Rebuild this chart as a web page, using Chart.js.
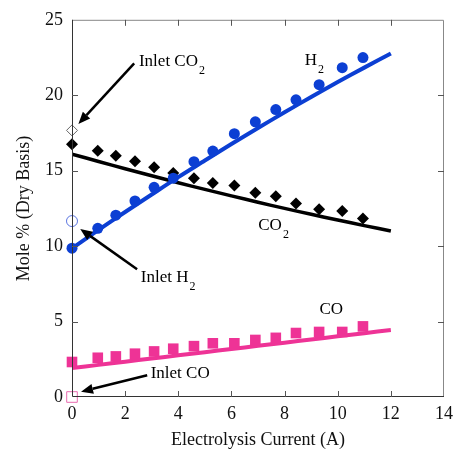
<!DOCTYPE html>
<html>
<head>
<meta charset="utf-8">
<script src="https://cdn.jsdelivr.net/npm/chart.js@4"></script>
<style>
  html, body { margin: 0; padding: 0; background: #fff; }
  #wrap { width: 459px; height: 451px; }
</style>
</head>
<body>
<div id="wrap"><canvas id="chart"></canvas></div>
<script>
// measured points (electrolysis current, A)
const currentA = [0, 0.97, 1.65, 2.37, 3.09, 3.81, 4.59, 5.3, 6.11, 6.9, 7.67, 8.43, 9.3, 10.17, 10.95]
const h2Measured = [9.86, 11.18, 12.05, 12.99, 13.9, 14.5, 15.6, 16.3, 17.45, 18.24, 19.05, 19.7, 20.7, 21.83, 22.5]
const co2Measured = [16.75, 16.32, 15.99, 15.62, 15.22, 14.85, 14.5, 14.19, 14.02, 13.54, 13.3, 12.82, 12.45, 12.32, 11.83]
const coMeasured = [2.32, 2.6, 2.69, 2.87, 3.02, 3.2, 3.37, 3.56, 3.56, 3.78, 3.92, 4.24, 4.31, 4.31, 4.68]

// model curves
const modelCurrent = [0, 1, 2, 3, 4, 5, 6, 7, 8, 9, 10, 11, 12]
const h2Model = [9.85, 11.07, 12.26, 13.42, 14.57, 15.67, 16.77, 17.83, 18.87, 19.88, 20.87, 21.83, 22.77]
const co2Model = [16.1, 15.61, 15.13, 14.66, 14.2, 13.76, 13.33, 12.91, 12.5, 12.11, 11.73, 11.36, 11.0]
const coModel = [1.92, 2.13, 2.34, 2.55, 2.76, 2.97, 3.18, 3.39, 3.6, 3.81, 4.02, 4.23, 4.44]

// inlet composition
const inletCurrent = 0
const inletH2 = 11.66
const inletCO2 = 17.67
const inletCO = 0

const xTicks = [0, 2, 4, 6, 8, 10, 12, 14]
const yTicks = [0, 5, 10, 15, 20, 25]

const BLUE = "#0c3fd3"
const PINK = "#ee3396"
const FONT = "'Liberation Serif', 'Times New Roman', serif"

const pts = (xs, ys) => xs.map((x, i) => ({ x: x, y: ys[i] }))

// labels and arrows, in data units
const labels = [
  { text: "Inlet CO", sub: "2", x: 2.52, y: 21.92 },
  { text: "H", sub: "2", x: 8.76, y: 21.98 },
  { text: "CO", sub: "2", x: 7.01, y: 11.07 },
  { text: "Inlet H", sub: "2", x: 2.59, y: 7.61 },
  { text: "CO", sub: "", x: 9.31, y: 5.49 },
  { text: "Inlet CO", sub: "", x: 2.96, y: 1.23 },
]
const arrows = [
  { from: [2.34, 22.11], to: [0.24, 18.1] },
  { from: [2.45, 8.46], to: [0.31, 11.14] },
  { from: [2.83, 1.44], to: [0.34, 0.35] },
]

const framePlugin = {
  id: "frame",
  afterDatasetsDraw(chart) {
    const { ctx, chartArea: a, scales: { x, y } } = chart
    ctx.save()

    // box
    ctx.lineWidth = 1
    ctx.strokeStyle = "#888"
    ctx.beginPath()
    ctx.moveTo(a.left, a.top + 0.5)
    ctx.lineTo(a.right - 0.5, a.top + 0.5)
    ctx.lineTo(a.right - 0.5, a.bottom)
    ctx.stroke()
    ctx.strokeStyle = "#333"
    ctx.beginPath()
    ctx.moveTo(a.left + 0.5, a.top)
    ctx.lineTo(a.left + 0.5, a.bottom - 0.5)
    ctx.lineTo(a.right, a.bottom - 0.5)
    ctx.stroke()

    // inward ticks
    const tl = 6
    ctx.beginPath()
    xTicks.slice(1, -1).forEach(v => {
      const px = Math.round(x.getPixelForValue(v)) + 0.5
      ctx.moveTo(px, a.bottom); ctx.lineTo(px, a.bottom - tl)
      ctx.moveTo(px, a.top); ctx.lineTo(px, a.top + tl)
    })
    yTicks.slice(1, -1).forEach(v => {
      const py = Math.round(y.getPixelForValue(v)) + 0.5
      ctx.moveTo(a.left, py); ctx.lineTo(a.left + tl, py)
      ctx.moveTo(a.right, py); ctx.lineTo(a.right - tl, py)
    })
    ctx.strokeStyle = "#555"
    ctx.stroke()

    // arrows
    ctx.strokeStyle = "#000"
    ctx.fillStyle = "#000"
    arrows.forEach(ar => {
      const x0 = x.getPixelForValue(ar.from[0]), y0 = y.getPixelForValue(ar.from[1])
      const x1 = x.getPixelForValue(ar.to[0]), y1 = y.getPixelForValue(ar.to[1])
      const ang = Math.atan2(y1 - y0, x1 - x0)
      const head = 12, w = 5
      const bx = x1 - head * Math.cos(ang), by = y1 - head * Math.sin(ang)
      ctx.lineWidth = 2.5
      ctx.beginPath()
      ctx.moveTo(x0, y0); ctx.lineTo(bx, by)
      ctx.stroke()
      ctx.beginPath()
      ctx.moveTo(x1, y1)
      ctx.lineTo(bx + w * Math.sin(ang), by - w * Math.cos(ang))
      ctx.lineTo(bx - w * Math.sin(ang), by + w * Math.cos(ang))
      ctx.closePath()
      ctx.fill()
    })

    // text labels
    ctx.textBaseline = "alphabetic"
    ctx.textAlign = "left"
    labels.forEach(l => {
      const px = x.getPixelForValue(l.x), py = y.getPixelForValue(l.y)
      ctx.font = "17px " + FONT
      ctx.fillText(l.text, px, py)
      if (l.sub) {
        const w = ctx.measureText(l.text).width
        ctx.font = "12px " + FONT
        ctx.fillText(l.sub, px + w + 1, py + 8)
      }
    })
    ctx.restore()
  },
}

new Chart(document.getElementById("chart"), {
  type: "scatter",
  data: {
    datasets: [
      {
        label: "H2",
        data: pts(currentA, h2Measured),
        pointStyle: "circle",
        pointRadius: 5.5,
        pointBorderWidth: 0,
        pointBackgroundColor: BLUE,
        clip: false,
      },
      {
        label: "CO2",
        data: pts(currentA, co2Measured),
        pointStyle: "rectRot",
        pointRadius: 6,
        pointBorderWidth: 0,
        pointBackgroundColor: "#000",
        clip: false,
      },
      {
        label: "CO",
        data: pts(currentA, coMeasured),
        pointStyle: "rect",
        pointRadius: 7.5,
        pointBorderWidth: 0,
        pointBackgroundColor: PINK,
        clip: false,
      },
      {
        label: "Inlet CO2",
        data: [{ x: inletCurrent, y: inletCO2 }],
        pointStyle: "rectRot",
        pointRadius: 5.5,
        pointBorderWidth: 1,
        pointBorderColor: "#666",
        pointBackgroundColor: "#fff",
        clip: false,
      },
      {
        label: "Inlet H2",
        data: [{ x: inletCurrent, y: inletH2 }],
        pointStyle: "circle",
        pointRadius: 5.5,
        pointBorderWidth: 1,
        pointBorderColor: "#5a74e0",
        pointBackgroundColor: "#fff",
        clip: false,
      },
      {
        label: "Inlet CO",
        data: [{ x: inletCurrent, y: inletCO }],
        pointStyle: "rect",
        pointRadius: 7.5,
        pointBorderWidth: 1,
        pointBorderColor: "#e86aae",
        pointBackgroundColor: "rgba(255,255,255,0)",
        clip: false,
      },
      {
        label: "H2 model",
        data: pts(modelCurrent, h2Model),
        showLine: true,
        borderColor: BLUE,
        borderWidth: 4,
        pointRadius: 0,
        tension: 0.3,
      },
      {
        label: "CO2 model",
        data: pts(modelCurrent, co2Model),
        showLine: true,
        borderColor: "#000",
        borderWidth: 3.5,
        pointRadius: 0,
        tension: 0.3,
      },
      {
        label: "CO model",
        data: pts(modelCurrent, coModel),
        showLine: true,
        borderColor: PINK,
        borderWidth: 4,
        pointRadius: 0,
        tension: 0.3,
      },
    ],
  },
  options: {
    responsive: true,
    maintainAspectRatio: false,
    animation: false,
    layout: { padding: { top: 16, right: 12, left: 0, bottom: 0 } },
    plugins: {
      legend: { display: false },
      tooltip: { enabled: false },
    },
    scales: {
      x: {
        type: "linear",
        min: 0,
        max: 14,
        afterBuildTicks: (s) => { s.ticks = xTicks.map(v => ({ value: v })) },
        afterFit: (s) => { s.height = 54 },
        grid: { display: false, drawTicks: false },
        border: { display: false },
        ticks: { color: "#111", padding: 6, font: { family: FONT, size: 18 } },
        title: {
          display: true,
          text: "Electrolysis Current (A)",
          color: "#111",
          padding: { top: 1, bottom: 0 },
          font: { family: FONT, size: 18 },
        },
      },
      y: {
        type: "linear",
        min: 0,
        max: 25,
        afterBuildTicks: (s) => { s.ticks = yTicks.map(v => ({ value: v })) },
        afterFit: (s) => { s.width = 72 },
        grid: { display: false, drawTicks: false },
        border: { display: false },
        ticks: { color: "#111", padding: 9, font: { family: FONT, size: 18 } },
        title: {
          display: true,
          text: "Mole % (Dry Basis)",
          color: "#111",
          padding: { top: 13, bottom: 0 },
          font: { family: FONT, size: 18 },
        },
      },
    },
  },
  plugins: [framePlugin],
})
</script>
</body>
</html>
